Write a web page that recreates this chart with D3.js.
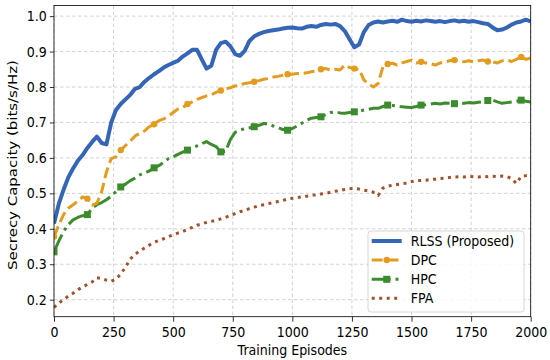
<!DOCTYPE html>
<html><head><meta charset="utf-8">
<script src="https://cdn.jsdelivr.net/npm/d3@7"></script>
<style>
body{margin:0;background:#fff;}
svg{font-family:"DejaVu Sans",sans-serif;}
</style></head>
<body><svg id="c" width="550" height="360"></svg>
<script>
const episodes = d3.range(0, 2001, 20);
const xTicks = [0,250,500,750,1000,1250,1500,1750,2000];
const yTicks = [0.2,0.3,0.4,0.5,0.6,0.7,0.8,0.9,1.0];
const seriesNames = ["RLSS (Proposed)","DPC","HPC","FPA"];

const rlss = [0.415,0.47,0.51,0.545,0.57,0.592,0.608,0.628,0.645,0.66,
0.642,0.638,0.70,0.735,0.752,0.765,0.778,0.795,0.80,0.815,
0.826,0.836,0.845,0.855,0.862,0.868,0.874,0.886,0.895,0.905,
0.905,0.878,0.852,0.86,0.905,0.924,0.928,0.915,0.893,0.888,
0.902,0.93,0.943,0.95,0.955,0.958,0.96,0.962,0.965,0.967,
0.968,0.966,0.965,0.97,0.972,0.97,0.975,0.978,0.976,0.978,
0.972,0.958,0.935,0.912,0.92,0.955,0.975,0.982,0.985,0.982,
0.985,0.987,0.984,0.99,0.986,0.984,0.987,0.985,0.988,0.986,
0.984,0.986,0.983,0.986,0.988,0.985,0.987,0.984,0.986,0.983,
0.98,0.978,0.968,0.96,0.962,0.968,0.976,0.982,0.985,0.99,0.985];

const dpc = [0.378,0.41,0.44,0.458,0.468,0.478,0.49,0.485,0.467,0.472,
0.505,0.56,0.598,0.603,0.622,0.635,0.647,0.662,0.669,0.676,
0.688,0.695,0.705,0.71,0.718,0.728,0.738,0.742,0.752,0.758,
0.765,0.77,0.775,0.778,0.785,0.79,0.795,0.798,0.803,0.806,
0.81,0.812,0.815,0.818,0.822,0.824,0.828,0.83,0.833,0.836,
0.836,0.838,0.838,0.84,0.843,0.845,0.85,0.852,0.848,0.85,
0.848,0.862,0.855,0.852,0.85,0.82,0.808,0.80,0.81,0.857,
0.865,0.867,0.862,0.868,0.872,0.876,0.868,0.871,0.868,0.866,
0.862,0.868,0.871,0.874,0.876,0.874,0.871,0.874,0.871,0.874,
0.876,0.872,0.871,0.868,0.874,0.876,0.872,0.878,0.885,0.878,0.882];

const hpc = [0.335,0.365,0.392,0.412,0.425,0.432,0.437,0.44,0.458,0.468,
0.474,0.482,0.492,0.505,0.518,0.526,0.536,0.543,0.552,0.558,
0.563,0.572,0.578,0.588,0.598,0.603,0.61,0.616,0.622,0.628,
0.634,0.64,0.646,0.638,0.632,0.617,0.618,0.652,0.672,0.678,
0.683,0.685,0.688,0.692,0.697,0.696,0.69,0.686,0.68,0.678,
0.683,0.69,0.698,0.706,0.712,0.714,0.716,0.722,0.728,0.73,
0.727,0.726,0.728,0.73,0.732,0.735,0.737,0.74,0.74,0.745,
0.749,0.748,0.746,0.744,0.743,0.742,0.745,0.749,0.75,0.752,
0.754,0.752,0.755,0.754,0.753,0.755,0.754,0.756,0.755,0.757,
0.758,0.762,0.763,0.758,0.754,0.756,0.758,0.76,0.763,0.76,0.758];

const fpa = [0.178,0.19,0.2,0.21,0.218,0.228,0.236,0.243,0.25,0.262,
0.26,0.255,0.252,0.258,0.272,0.292,0.315,0.328,0.338,0.346,
0.354,0.362,0.367,0.372,0.378,0.383,0.388,0.392,0.398,0.404,
0.41,0.414,0.418,0.421,0.424,0.428,0.432,0.438,0.443,0.448,
0.452,0.457,0.461,0.465,0.468,0.471,0.474,0.477,0.48,0.484,
0.486,0.488,0.49,0.492,0.494,0.496,0.498,0.5,0.503,0.506,
0.508,0.511,0.513,0.514,0.512,0.509,0.507,0.503,0.494,0.515,
0.52,0.523,0.525,0.527,0.529,0.533,0.536,0.536,0.537,0.539,
0.54,0.542,0.543,0.545,0.546,0.547,0.546,0.548,0.547,0.546,
0.548,0.547,0.548,0.547,0.549,0.547,0.542,0.528,0.548,0.55,0.552];

const svg = d3.select("#c");
const L=54, R=530.7, T=5.5, B=316.7;
const FS=14, SX=0.9;
const x = d3.scaleLinear().domain([0,2000]).range([L,R]);
const y = d3.scaleLinear().domain([0.152,1.03]).range([B,T]);

// grid
const grid = svg.append("g");
grid.selectAll("line.gx").data(xTicks).join("line")
  .attr("x1",d=>x(d)).attr("x2",d=>x(d)).attr("y1",T).attr("y2",B)
  .attr("stroke","#c8c8c8").attr("stroke-width",0.8).attr("stroke-dasharray","3.5,2.5");
grid.selectAll("line.gy").data(yTicks).join("line")
  .attr("x1",L).attr("x2",R).attr("y1",d=>y(d)).attr("y2",d=>y(d))
  .attr("stroke","#c8c8c8").attr("stroke-width",0.8).attr("stroke-dasharray","3.5,2.5");

const styles = [
 {data:rlss, color:"#3566b6", w:4, dash:null, marker:null},
 {data:dpc, color:"#e29c1f", w:3, dash:"11,4.8", marker:"circle"},
 {data:hpc, color:"#3c8c2e", w:3, dash:"19,4.8,3,4.8", marker:"square"},
 {data:fpa, color:"#a0522d", w:3, dash:"3,4.5", marker:null}
];
const line = d3.line().x((d,i)=>x(episodes[i])).y(d=>y(d));
const plot = svg.append("g");
svg.append("clipPath").attr("id","cp").append("rect")
  .attr("x",L).attr("y",T).attr("width",R-L).attr("height",B-T);
plot.attr("clip-path","url(#cp)");
styles.slice().reverse().forEach(s=>{
  plot.append("path").datum(s.data).attr("d",line)
    .attr("fill","none").attr("stroke",s.color).attr("stroke-width",s.w)
    .attr("stroke-linejoin","round")
    .attr("stroke-dasharray",s.dash);
  if(s.marker){
    const md = s.data.map((v,i)=>({e:episodes[i],v})).filter((d,i)=>i%7===0);
    if(s.marker==="circle"){
      plot.selectAll(null).data(md).join("circle")
        .attr("cx",d=>x(d.e)).attr("cy",d=>y(d.v)).attr("r",3.2).attr("fill",s.color);
    } else {
      plot.selectAll(null).data(md).join("rect")
        .attr("x",d=>x(d.e)-3.5).attr("y",d=>y(d.v)-3.5).attr("width",7).attr("height",7).attr("fill",s.color);
    }
  }
});

// axes
const xa = svg.append("g").attr("transform",`translate(0,${B})`)
  .call(d3.axisBottom(x).tickValues(xTicks).tickFormat(d3.format("d")).tickSizeOuter(0).tickSize(5).tickPadding(5));
const ya = svg.append("g").attr("transform",`translate(${L},0)`)
  .call(d3.axisLeft(y).tickValues(yTicks).tickFormat(d3.format(".1f")).tickSizeOuter(0).tickSize(4.2).tickPadding(3.6));
[xa,ya].forEach(a=>{
  a.select(".domain").remove();
  a.selectAll("text").attr("font-size",FS).attr("fill","#000").attr("font-family","DejaVu Sans");
  a.selectAll("line").attr("stroke","#000").attr("stroke-width",0.8);
});
xa.selectAll("text").attr("transform",`scale(${SX},1)`);
ya.selectAll("text").attr("x",-7.2/SX).attr("transform",`scale(${SX},1)`);
svg.append("rect").attr("x",L).attr("y",T).attr("width",R-L).attr("height",B-T)
  .attr("fill","none").attr("stroke","#000").attr("stroke-width",0.8);

svg.append("text").attr("transform",`translate(${(L+R)/2},354.5) scale(${SX},1)`).attr("text-anchor","middle")
  .attr("font-size",FS).text("Training Episodes");
svg.append("text").attr("transform",`translate(17,${(T+B)/2+4}) rotate(-90) scale(1.07,${SX})`).attr("text-anchor","middle")
  .attr("font-size",FS).text("Secrecy Capacity (bits/s/Hz)");

// legend
const lg = svg.append("g");
lg.append("rect").attr("x",368).attr("y",231).attr("width",156).attr("height",81)
  .attr("rx",3).attr("fill","#fff").attr("fill-opacity",0.8).attr("stroke","#cccccc").attr("stroke-width",0.8);
const rows=[241,260,279.3,298.3];
styles.forEach((s,i)=>{
  const yy=rows[i];
  lg.append("line").attr("x1",371.7).attr("x2",401.7).attr("y1",yy).attr("y2",yy)
    .attr("stroke",s.color).attr("stroke-width",s.w).attr("stroke-dasharray",s.dash);
  if(s.marker==="circle") lg.append("circle").attr("cx",386.7).attr("cy",yy).attr("r",3.2).attr("fill",s.color);
  if(s.marker==="square") lg.append("rect").attr("x",383.2).attr("y",yy-3.5).attr("width",7).attr("height",7).attr("fill",s.color);
  lg.append("text").attr("transform",`translate(410.7,${yy}) scale(${SX},1)`).attr("dy","0.36em").attr("font-size",FS).text(seriesNames[i]);
});
</script></body></html>
